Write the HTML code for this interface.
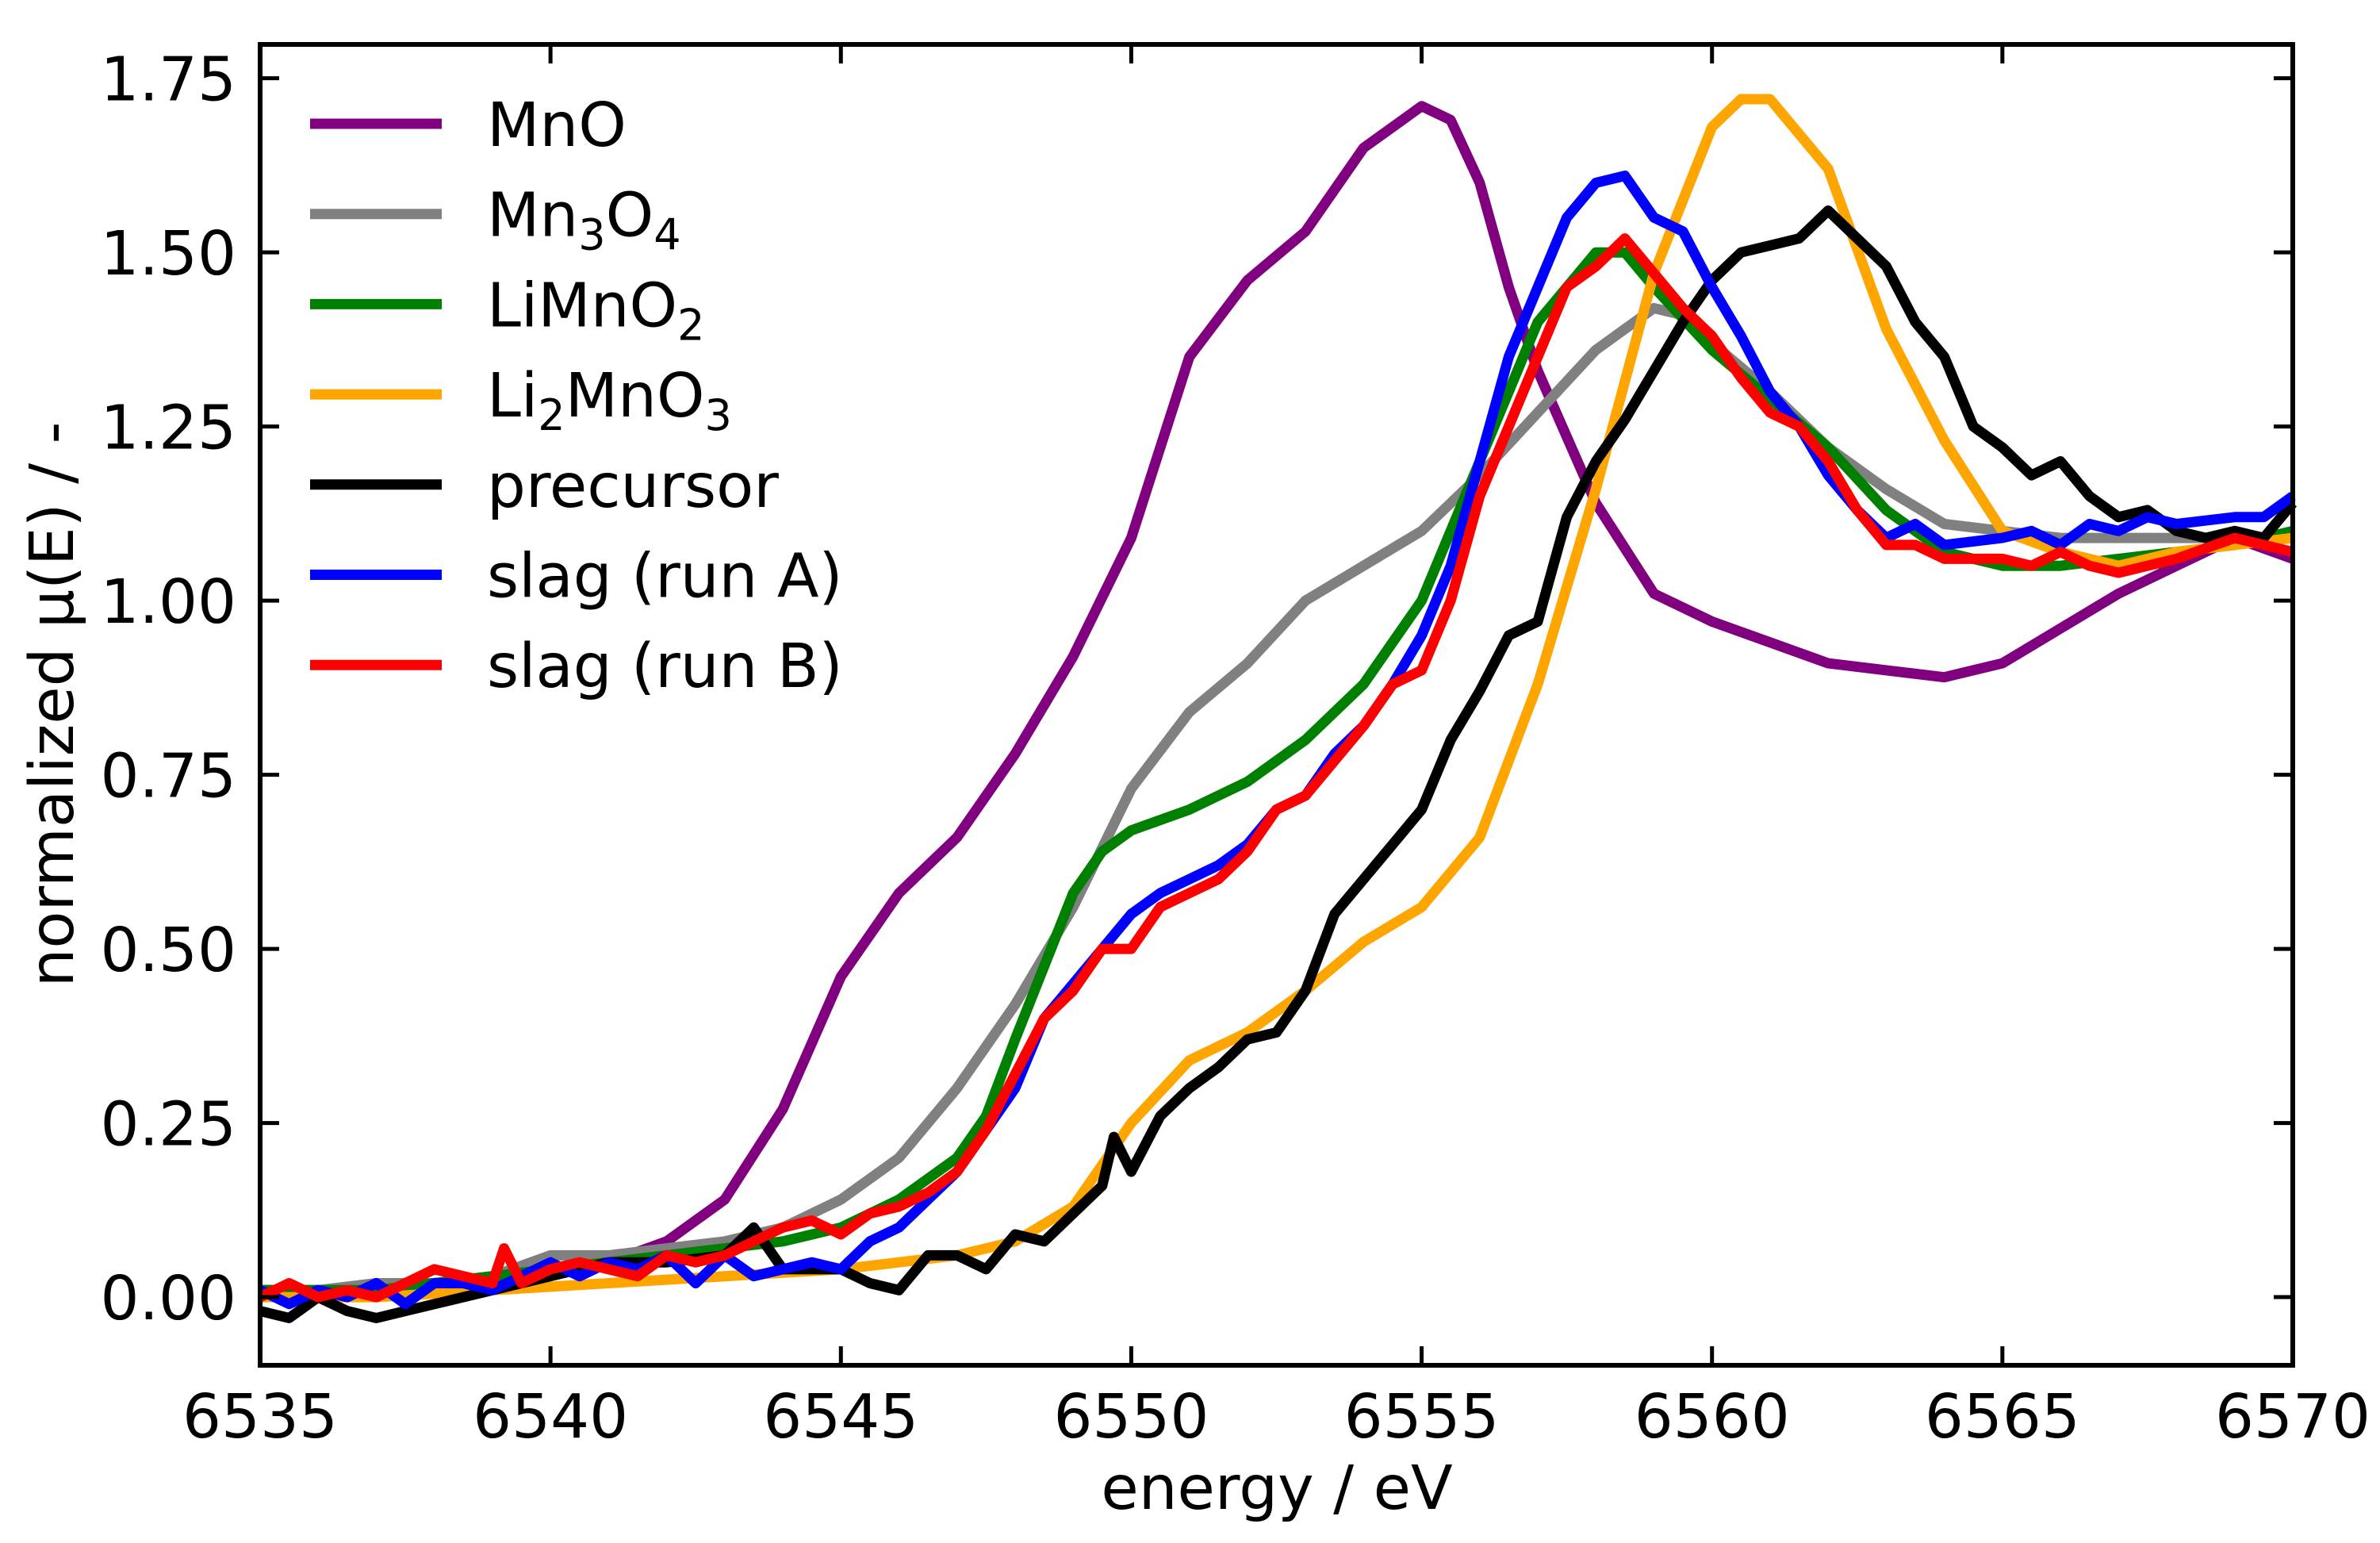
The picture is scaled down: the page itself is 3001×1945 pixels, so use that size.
<!DOCTYPE html>
<html><head><meta charset="utf-8"><style>
html,body{margin:0;padding:0;background:#fff}
svg{display:block}
text{font-family:"DejaVu Sans","Liberation Sans",sans-serif;fill:#000}
</style></head><body>
<svg id="chart" width="3001" height="1945" viewBox="0 0 3001 1945" xmlns="http://www.w3.org/2000/svg">
<g id="series"></g>
<rect x="328" y="56" width="2563" height="1665" fill="none" stroke="#000" stroke-width="6"/>
<g id="ticks"></g>
<text x="1610" y="1902" font-size="77" text-anchor="middle">energy / eV</text>
<text transform="translate(92,888) rotate(-90)" font-size="77" text-anchor="middle">normalized μ(E) / -</text>
<g id="legend"></g>
</svg>
<script>
const xTicks=[6535,6540,6545,6550,6555,6560,6565,6570];
const yTicks=[0,0.25,0.5,0.75,1.0,1.25,1.5,1.75];
const yTickLabels=["0.00","0.25","0.50","0.75","1.00","1.25","1.50","1.75"];
const mnoX=[6535,6536,6537,6538,6539,6540,6541,6542,6543,6544,6545,6546,6547,6548,6548.5,6549,6550,6551,6552,6553,6554,6555,6555.5,6556,6556.5,6557,6558,6559,6560,6561,6562,6563,6564,6565,6566,6567,6568,6569,6570];
const mnoY=[0.01,0.01,0.0,0.01,0.02,0.04,0.05,0.08,0.14,0.27,0.46,0.58,0.66,0.78,0.85,0.92,1.09,1.35,1.46,1.53,1.65,1.71,1.69,1.60,1.45,1.33,1.14,1.01,0.97,0.94,0.91,0.9,0.89,0.91,0.96,1.01,1.05,1.09,1.06];
const mn3o4X=[6535,6536,6537,6538,6539,6540,6541,6542,6543,6544,6545,6546,6547,6548,6549,6550,6551,6552,6553,6554,6555,6556,6557,6558,6559,6559.5,6560,6561,6562,6563,6564,6565,6566,6568,6570];
const mn3o4Y=[0.01,0.01,0.02,0.02,0.03,0.06,0.06,0.07,0.08,0.1,0.14,0.2,0.3,0.42,0.56,0.73,0.84,0.91,1.0,1.05,1.1,1.18,1.27,1.36,1.42,1.41,1.37,1.3,1.22,1.16,1.11,1.1,1.09,1.09,1.09];
const limno2X=[6535,6536,6537,6538,6539,6540,6541,6542,6543,6544,6545,6546,6547,6547.5,6548,6549,6549.5,6550,6551,6552,6553,6554,6555,6556,6557,6558,6558.5,6559,6560,6561,6562,6563,6564,6565,6566,6567,6568,6569,6570];
const limno2Y=[0.01,0.01,0.01,0.02,0.03,0.04,0.05,0.06,0.07,0.08,0.1,0.14,0.2,0.26,0.37,0.58,0.64,0.67,0.7,0.74,0.8,0.88,1.0,1.2,1.4,1.5,1.5,1.45,1.36,1.29,1.22,1.13,1.07,1.05,1.05,1.06,1.07,1.08,1.1];
const li2mno3X=[6535,6537,6539,6541,6543,6545,6546,6547,6548,6549,6550,6551,6552,6553,6554,6555,6556,6557,6558,6559,6560,6560.5,6561,6562,6563,6564,6565,6566,6567,6568,6569,6570];
const li2mno3Y=[0.0,0.0,0.01,0.02,0.03,0.04,0.05,0.06,0.08,0.13,0.25,0.34,0.38,0.44,0.51,0.56,0.66,0.88,1.16,1.47,1.68,1.72,1.72,1.62,1.39,1.23,1.1,1.07,1.05,1.07,1.08,1.09];
const precX=[6535,6535.5,6536,6536.5,6537,6537.5,6538,6539,6540,6541,6542,6543,6543.5,6544,6545,6545.5,6546,6546.5,6547,6547.5,6548,6548.5,6549,6549.5,6549.7,6550,6550.5,6551,6551.5,6552,6552.5,6553,6553.5,6554,6554.5,6555,6555.5,6556,6556.5,6557,6557.5,6558,6558.5,6559,6559.5,6560,6560.5,6561,6561.5,6562,6562.5,6563,6563.5,6564,6564.5,6565,6565.5,6566,6566.5,6567,6567.5,6568,6568.5,6569,6569.5,6570];
const precY=[-0.02,-0.03,0.0,-0.02,-0.03,-0.02,-0.01,0.01,0.03,0.05,0.05,0.06,0.1,0.04,0.04,0.02,0.01,0.06,0.06,0.04,0.09,0.08,0.12,0.16,0.23,0.18,0.26,0.3,0.33,0.37,0.38,0.44,0.55,0.6,0.65,0.7,0.8,0.87,0.95,0.97,1.12,1.2,1.26,1.33,1.4,1.46,1.5,1.51,1.52,1.56,1.52,1.48,1.4,1.35,1.25,1.22,1.18,1.2,1.15,1.12,1.13,1.1,1.09,1.1,1.09,1.14];
const slagAX=[6535,6535.5,6536,6536.5,6537,6537.5,6538,6538.5,6539,6539.5,6540,6540.5,6541,6541.5,6542,6542.5,6543,6543.5,6544,6544.5,6545,6545.5,6546,6546.5,6547,6547.5,6548,6548.5,6549,6549.5,6550,6550.5,6551,6551.5,6552,6552.5,6553,6553.5,6554,6554.5,6555,6555.5,6556,6556.5,6557,6557.5,6558,6558.5,6559,6559.5,6560,6560.5,6561,6561.5,6562,6562.5,6563,6563.5,6564,6565,6565.5,6566,6566.5,6567,6567.5,6568,6569,6569.5,6570];
const slagAY=[0.01,-0.01,0.01,0.0,0.02,-0.01,0.02,0.02,0.01,0.03,0.05,0.03,0.05,0.04,0.06,0.02,0.06,0.03,0.04,0.05,0.04,0.08,0.1,0.14,0.18,0.24,0.3,0.4,0.45,0.5,0.55,0.58,0.6,0.62,0.65,0.7,0.72,0.78,0.82,0.88,0.95,1.05,1.2,1.35,1.45,1.55,1.6,1.61,1.55,1.53,1.45,1.38,1.3,1.25,1.18,1.13,1.09,1.11,1.08,1.09,1.1,1.08,1.11,1.1,1.12,1.11,1.12,1.12,1.15];
const slagBX=[6535,6535.5,6536,6536.5,6537,6537.5,6538,6538.5,6539,6539.2,6539.5,6540,6540.5,6541,6541.5,6542,6542.5,6543,6543.5,6544,6544.5,6545,6545.5,6546,6546.5,6547,6547.5,6548,6548.5,6549,6549.5,6550,6550.5,6551,6551.5,6552,6552.5,6553,6553.5,6554,6554.5,6555,6555.5,6556,6556.5,6557,6557.5,6558,6558.5,6559,6559.5,6560,6560.5,6561,6561.5,6562,6562.5,6563,6563.5,6564,6565,6565.5,6566,6566.5,6567,6567.5,6568,6569,6569.5,6570];
const slagBY=[0.0,0.02,0.0,0.01,0.0,0.02,0.04,0.03,0.02,0.07,0.02,0.04,0.05,0.04,0.03,0.06,0.05,0.06,0.08,0.1,0.11,0.09,0.12,0.13,0.15,0.18,0.24,0.32,0.4,0.44,0.5,0.5,0.56,0.58,0.6,0.64,0.7,0.72,0.77,0.82,0.88,0.9,1.0,1.15,1.25,1.35,1.45,1.48,1.52,1.47,1.42,1.38,1.32,1.27,1.25,1.2,1.13,1.08,1.08,1.06,1.06,1.05,1.07,1.05,1.04,1.05,1.06,1.09,1.08,1.07];
const seriesNames=["MnO","Mn3O4","LiMnO2","Li2MnO3","precursor","slag (run A)","slag (run B)"];
const legendLabels=["MnO","Mn<tspan font-size='54' dy='17'>3</tspan><tspan dy='-17'>O</tspan><tspan font-size='54' dy='17'>4</tspan>","LiMnO<tspan font-size='54' dy='17'>2</tspan>","Li<tspan font-size='54' dy='17'>2</tspan><tspan dy='-17'>MnO</tspan><tspan font-size='54' dy='17'>3</tspan>","precursor","slag (run A)","slag (run B)"];
const colors=["#800080","#808080","#008000","#FFA500","#000000","#0000FF","#FF0000"];
const allX=[mnoX,mn3o4X,limno2X,li2mno3X,precX,slagAX,slagBX];
const allY=[mnoY,mn3o4Y,limno2Y,li2mno3Y,precY,slagAY,slagBY];

const X0=328,X1=2891,Y0=1721,Y1=56;
const xMin=6535,xMax=6570,yMin=-0.0979,yMax=1.7986;
const sx=v=>X0+(v-xMin)/(xMax-xMin)*(X1-X0);
const sy=v=>Y0-(v-yMin)/(yMax-yMin)*(Y0-Y1);
const NS="http://www.w3.org/2000/svg";
const sg=document.getElementById('series');
for(let i=0;i<allX.length;i++){
  const p=document.createElementNS(NS,'polyline');
  p.setAttribute('points',allX[i].map((x,j)=>sx(x).toFixed(1)+','+sy(allY[i][j]).toFixed(1)).join(' '));
  p.setAttribute('fill','none');p.setAttribute('stroke',colors[i]);p.setAttribute('stroke-width','13');
  p.setAttribute('stroke-linejoin','round');
  
  
  sg.appendChild(p);
}
const tg=document.getElementById('ticks');
const L=24;
xTicks.forEach(t=>{
  const x=sx(t);
  [[Y0,Y0-L],[Y1,Y1+L]].forEach(([a,b])=>{
    const l=document.createElementNS(NS,'line');
    l.setAttribute('x1',x);l.setAttribute('x2',x);l.setAttribute('y1',a);l.setAttribute('y2',b);
    l.setAttribute('stroke','#000');l.setAttribute('stroke-width','5');
    
    
    tg.appendChild(l);
  });
  const tx=document.createElementNS(NS,'text');
  tx.setAttribute('x',x);tx.setAttribute('y',1812);tx.setAttribute('font-size','77');tx.setAttribute('text-anchor','middle');
  tx.textContent=t;
  
  
  tg.appendChild(tx);
});
yTicks.forEach((t,i)=>{
  const y=sy(t);
  [[X0,X0+L],[X1,X1-L]].forEach(([a,b])=>{
    const l=document.createElementNS(NS,'line');
    l.setAttribute('y1',y);l.setAttribute('y2',y);l.setAttribute('x1',a);l.setAttribute('x2',b);
    l.setAttribute('stroke','#000');l.setAttribute('stroke-width','5');
    
    
    tg.appendChild(l);
  });
  const tx=document.createElementNS(NS,'text');
  tx.setAttribute('x',298);tx.setAttribute('y',y+28);tx.setAttribute('font-size','77');tx.setAttribute('text-anchor','end');
  tx.textContent=yTickLabels[i];
  
  
  tg.appendChild(tx);
});
const lg=document.getElementById('legend');
seriesNames.forEach((n,i)=>{
  const y=156+i*113.7;
  const l=document.createElementNS(NS,'line');
  l.setAttribute('x1',391);l.setAttribute('x2',557);l.setAttribute('y1',y);l.setAttribute('y2',y);
  l.setAttribute('stroke',colors[i]);l.setAttribute('stroke-width','13');
  
  
  lg.appendChild(l);
  const t=document.createElementNS(NS,'text');
  t.setAttribute('x',614);t.setAttribute('y',y+28);t.setAttribute('font-size','77');
  t.innerHTML=legendLabels[i];
  
  
  lg.appendChild(t);
});
</script>
</body></html>
